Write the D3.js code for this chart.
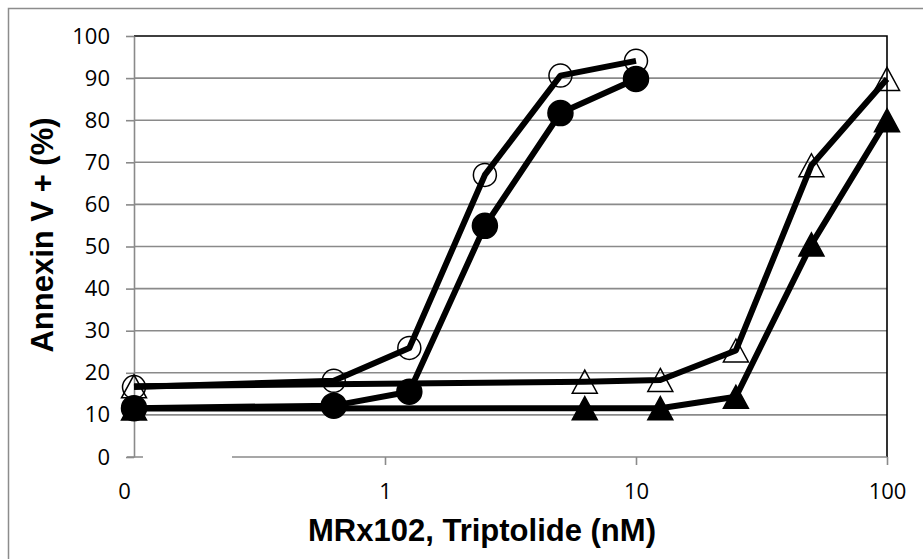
<!DOCTYPE html>
<html>
<head>
<meta charset="utf-8">
<script src="https://cdn.jsdelivr.net/npm/d3@7"></script>
<style>
  html, body { margin: 0; padding: 0; background: #fff; }
  svg { display: block; }
</style>
</head>
<body>
<svg id="chart" width="923" height="559"></svg>
<script>
// Concentrations (nM) for the MRx102 and triptolide dilution series
const concCircle = [0.1, 0.625, 1.25, 2.5, 5, 10];
const concTriangle = [0.1, 6.25, 12.5, 25, 50, 100];

// Annexin V positive cells (%)
const openCircle = [16.6, 18.1, 25.9, 67.0, 90.6, 94.1];
const filledCircle = [11.6, 12.2, 15.5, 54.9, 81.7, 89.8];
const openTriangle = [16.8, 17.9, 18.3, 25.3, 69.3, 89.8];
const filledTriangle = [11.5, 11.6, 11.6, 14.3, 50.5, 80.0];

const xTicks = [0.1, 1, 10, 100];
const xTickLabels = ["0", "1", "10", "100"];
const yTicks = d3.range(0, 101, 10);

const svg = d3.select("#chart");
const W = 923, H = 559;
const plot = { left: 134, right: 887, top: 36, bottom: 457 };

svg.append("rect").attr("width", W).attr("height", H).attr("fill", "#fff");
// outer frame
svg.append("rect")
  .attr("x", 8.5).attr("y", 8.5)
  .attr("width", W + 20).attr("height", H + 20)
  .attr("fill", "none").attr("stroke", "#8c8c8c").attr("stroke-width", 1.5);

const x = d3.scaleLog().domain([0.1, 100]).range([plot.left, plot.right]);
const y = d3.scaleLinear().domain([0, 100]).range([plot.bottom, plot.top]);

const tickFont = "'Open Sans', sans-serif";
const titleFont = "'Liberation Sans', Arial, sans-serif";

// horizontal gridlines
svg.append("g")
  .selectAll("line")
  .data(yTicks.filter(v => v > 0 && v < 100))
  .join("line")
  .attr("x1", plot.left).attr("x2", plot.right)
  .attr("y1", d => y(d)).attr("y2", d => y(d))
  .attr("stroke", "#8a8a8a").attr("stroke-width", 1.6);

// plot area border (top & right)
svg.append("path")
  .attr("d", `M${plot.left},${y(100)}H${plot.right}V${plot.bottom}`)
  .attr("fill", "none").attr("stroke", "#000").attr("stroke-width", 1.6);

// y axis
const yAxis = svg.append("g")
  .attr("transform", `translate(${plot.left},0)`)
  .call(d3.axisLeft(y).tickValues(yTicks).tickSize(8).tickPadding(16).tickSizeOuter(0));
yAxis.select(".domain").attr("stroke", "#8a8a8a").attr("stroke-width", 1.6);
yAxis.selectAll(".tick line").attr("stroke", "#8a8a8a").attr("stroke-width", 1.6);
yAxis.selectAll(".tick text")
  .attr("font-family", tickFont).attr("font-size", 22).attr("fill", "#000");

// x axis
const xAxis = svg.append("g")
  .attr("transform", `translate(0,${plot.bottom})`)
  .call(d3.axisBottom(x).tickValues(xTicks)
    .tickFormat((d, i) => xTickLabels[i]).tickSize(8).tickPadding(18).tickSizeOuter(0));
xAxis.select(".domain").attr("stroke", "#8a8a8a").attr("stroke-width", 1.6)
  .attr("d", `M${plot.left - 7},0H${plot.right}`);
xAxis.selectAll(".tick line").attr("stroke", "#8a8a8a").attr("stroke-width", 1.6);
xAxis.selectAll(".tick text")
  .attr("font-family", tickFont).attr("font-size", 22).attr("fill", "#000")
  .attr("dx", (d, i) => i === 0 ? -10 : 0);
xAxis.selectAll(".tick").filter(d => d === 0.1).select("line").remove();
// break in the baseline
svg.append("rect")
  .attr("x", 143).attr("y", plot.bottom - 2)
  .attr("width", 89).attr("height", 4).attr("fill", "#fff");

// axis titles
svg.append("text")
  .attr("x", 482).attr("y", 541)
  .attr("text-anchor", "middle")
  .attr("font-family", titleFont)
  .attr("font-weight", "bold").attr("font-size", 31)
  .text("MRx102, Triptolide (nM)");

svg.append("text")
  .attr("transform", "translate(53,235) rotate(-90)")
  .attr("text-anchor", "middle")
  .attr("font-family", titleFont)
  .attr("font-weight", "bold").attr("font-size", 31)
  .text("Annexin V + (%)");

// series
const series = [
  { xs: concCircle, ys: openCircle, shape: "circle", filled: false },
  { xs: concCircle, ys: filledCircle, shape: "circle", filled: true },
  { xs: concTriangle, ys: openTriangle, shape: "triangle", filled: false },
  { xs: concTriangle, ys: filledTriangle, shape: "triangle", filled: true }
];

const line = d3.line().x(d => x(d[0])).y(d => y(d[1]));
const triPath = (w, h) => `M0,${-h / 2}L${w / 2},${h / 2}L${-w / 2},${h / 2}Z`;

series.forEach(s => {
  const pts = s.xs.map((v, i) => [v, s.ys[i]]);
  const g = svg.append("g");
  g.append("path")
    .attr("d", line(pts))
    .attr("fill", "none").attr("stroke", "#000")
    .attr("stroke-width", 6).attr("stroke-linejoin", "round");
  const m = g.selectAll(".m").data(pts).join(s.shape === "circle" ? "circle" : "path")
    .attr("class", "m");
  if (s.shape === "circle") {
    m.attr("cx", d => x(d[0])).attr("cy", d => y(d[1]))
      .attr("r", s.filled ? 12.5 : 11.5);
  } else {
    m.attr("transform", d => `translate(${x(d[0])},${y(d[1])})`)
      .attr("d", triPath(25, 23));
  }
  m.attr("fill", s.filled ? "#000" : "none")
    .attr("stroke", "#000").attr("stroke-width", 1.5);
});
</script>
</body>
</html>
